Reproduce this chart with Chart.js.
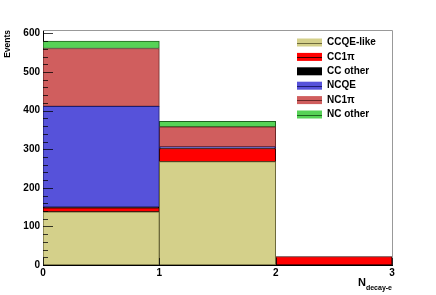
<!DOCTYPE html>
<html>
<head>
<meta charset="utf-8">
<script src="https://cdn.jsdelivr.net/npm/chart.js@4"></script>
<style>
  body { margin: 0; background: #fff; }
  canvas { display: block; }
</style>
</head>
<body>
<canvas id="myChart" width="436" height="295"></canvas>
<script>
// bin centres of N_decay-e (bins 0-1, 1-2, 2-3)
const binCenters = [0.5, 1.5, 2.5];
const seriesNames = ['CCQE-like', 'CC1\u03c0', 'CC other', 'NCQE', 'NC1\u03c0', 'NC other'];
const ccqeLike = [138, 268, 0];
const cc1pi = [10, 34, 22];
const ccOther = [2, 1, 0];
const ncqe = [261, 3, 0];
const nc1pi = [150, 52, 0];
const ncOther = [19, 14, 0];
const yTicks = [0, 100, 200, 300, 400, 500, 600];
const xTicks = [0, 1, 2, 3];

const fills = ['rgb(212,208,138)', 'rgb(255,0,0)', 'rgb(0,0,0)', 'rgb(86,82,218)', 'rgb(208,94,94)', 'rgb(86,210,86)'];
const lines = ['rgb(110,106,60)', 'rgb(60,0,0)', 'rgb(0,0,0)', 'rgb(30,28,110)', 'rgb(110,40,40)', 'rgb(30,100,30)'];
const FONT = '"Liberation Sans", Arial, sans-serif';

const series = [ccqeLike, cc1pi, ccOther, ncqe, nc1pi, ncOther];
const datasets = series.map((vals, i) => ({
    label: seriesNames[i],
    data: vals.map((v, j) => ({ x: binCenters[j], y: v })),
    backgroundColor: fills[i],
    borderColor: lines[i],
    borderWidth: 1,
    borderSkipped: false,
    barPercentage: 1,
    categoryPercentage: 1
}));

// ROOT-like decorations: inner ticks, frame, axis titles, legend
const rootStyle = {
    id: 'rootStyle',
    afterDraw(chart) {
        const c = chart.ctx;
        const a = chart.chartArea;
        const y = chart.scales.y, x = chart.scales.x;
        c.save();
        // frame top / right
        c.strokeStyle = '#999';
        c.lineWidth = 1;
        c.beginPath();
        c.moveTo(a.left, a.top + 0.5); c.lineTo(a.right + 0.5, a.top + 0.5);
        c.lineTo(a.right + 0.5, a.bottom);
        c.stroke();
        // y ticks inside
        c.strokeStyle = 'rgba(0,0,0,0.75)';
        for (let v = 0; v <= 600; v += 20) {
            const py = Math.round(y.getPixelForValue(v)) + 0.5;
            const len = v % 100 === 0 ? 10 : 5;
            c.beginPath(); c.moveTo(a.left, py); c.lineTo(a.left + len, py); c.stroke();
        }
        // x ticks inside
        xTicks.forEach(t => {
            const px = Math.round(x.getPixelForValue(t)) + 0.5;
            c.beginPath(); c.moveTo(px, a.bottom); c.lineTo(px, a.bottom - 7); c.stroke();
        });
        // axis titles
        c.fillStyle = '#000';
        c.font = 'bold 8.5px ' + FONT;
        c.save();
        c.translate(8, 30);
        c.rotate(-Math.PI / 2);
        c.textAlign = 'right';
        c.textBaseline = 'middle';
        c.fillText('Events', 0, 0);
        c.restore();
        c.textBaseline = 'alphabetic';
        c.textAlign = 'left';
        c.font = 'bold 7px ' + FONT;
        const sub = 'decay-e';
        const subW = c.measureText(sub).width;
        c.fillText(sub, a.right - subW, 290);
        c.font = 'bold 11px ' + FONT;
        const nW = c.measureText('N').width;
        c.fillText('N', a.right - subW - nW, 286);
        // legend
        c.font = 'bold 10px ' + FONT;
        c.textBaseline = 'middle';
        chart.data.datasets.forEach((ds, i) => {
            const cy = 42.5 + i * 14.4;
            c.fillStyle = ds.backgroundColor;
            c.fillRect(297, cy - 4, 25, 8);
            c.strokeStyle = ds.borderColor;
            c.beginPath(); c.moveTo(297, Math.round(cy) + 0.5); c.lineTo(322, Math.round(cy) + 0.5); c.stroke();
            c.fillStyle = '#000';
            c.fillText(ds.label, 327, cy);
        });
        c.restore();
    }
};

new Chart(document.getElementById('myChart').getContext('2d'), {
    type: 'bar',
    data: { datasets },
    options: {
        responsive: false,
        animation: false,
        devicePixelRatio: 1,
        layout: { padding: { top: 30, right: 44, left: 0, bottom: 0 } },
        plugins: { legend: { display: false }, tooltip: { enabled: false } },
        scales: {
            x: {
                type: 'linear',
                stacked: true,
                offset: false,
                min: 0, max: 3,
                afterFit: s => { s.height = 30; },
                afterBuildTicks: s => { s.ticks = xTicks.map(v => ({ value: v })); },
                grid: { display: false, drawTicks: false },
                border: { color: '#000', width: 1 },
                ticks: { padding: 2, color: '#000', font: { family: FONT, size: 10, weight: 'bold' }, maxRotation: 0 }
            },
            y: {
                stacked: true,
                min: 0, max: 609,
                afterFit: s => { s.width = 43; },
                afterBuildTicks: s => { s.ticks = yTicks.map(v => ({ value: v })); },
                grid: { display: false, drawTicks: false },
                border: { color: '#000', width: 1 },
                ticks: { padding: 3, color: '#000', font: { family: FONT, size: 10, weight: 'bold' } }
            }
        }
    },
    plugins: [rootStyle]
});
</script>
</body>
</html>
